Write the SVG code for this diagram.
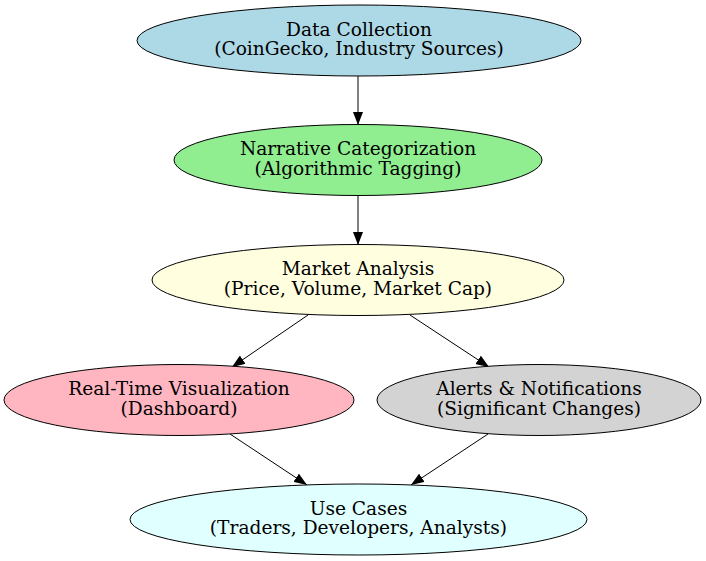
<svg xmlns="http://www.w3.org/2000/svg" width="706" height="561" viewBox="0 0 706 561">
<style>
.n ellipse{stroke:#000;stroke-width:1}
.n text{font-family:"DejaVu Serif","Liberation Serif",serif;font-size:18.6px;text-anchor:middle;fill:#000}
.e line{stroke:#000;stroke-width:1}
</style>
<defs>
<marker id="ah" viewBox="0 0 13 10" refX="13" refY="5" markerWidth="13" markerHeight="10" markerUnits="userSpaceOnUse" orient="auto">
<path d="M0,0 L13,5 L0,10 z" fill="#000"/>
</marker>
</defs>
<rect width="706" height="561" fill="#fff"/>
<g id="connectors" class="e">
<line x1="358" y1="76" x2="358" y2="125" marker-end="url(#ah)"/>
<line x1="358" y1="196" x2="358" y2="245" marker-end="url(#ah)"/>
<line x1="308" y1="315" x2="232" y2="367" marker-end="url(#ah)"/>
<line x1="410" y1="315" x2="489" y2="367" marker-end="url(#ah)"/>
<line x1="230" y1="434" x2="307" y2="485" marker-end="url(#ah)"/>
<line x1="488" y1="434" x2="411" y2="485" marker-end="url(#ah)"/>
</g>
<g id="data_collection" class="n">
<ellipse cx="359" cy="40.5" rx="222" ry="35.5" fill="#add8e6"/>
<text x="359" y="35.5">Data Collection</text>
<text x="359" y="55">(CoinGecko, Industry Sources)</text>
</g>
<g id="narrative" class="n">
<ellipse cx="358" cy="160" rx="184" ry="35.5" fill="#90ee90"/>
<text x="358" y="155">Narrative Categorization</text>
<text x="358" y="174.5">(Algorithmic Tagging)</text>
</g>
<g id="market" class="n">
<ellipse cx="358" cy="280" rx="206" ry="35.5" fill="#ffffe0"/>
<text x="358" y="275">Market Analysis</text>
<text x="358" y="294.5">(Price, Volume, Market Cap)</text>
</g>
<g id="visualization" class="n">
<ellipse cx="179" cy="400" rx="175" ry="35.5" fill="#ffb6c1"/>
<text x="179" y="395">Real-Time Visualization</text>
<text x="179" y="414.5">(Dashboard)</text>
</g>
<g id="alerts" class="n">
<ellipse cx="539" cy="400" rx="162" ry="35.5" fill="#d3d3d3"/>
<text x="539" y="395">Alerts &amp; Notifications</text>
<text x="539" y="414.5">(Significant Changes)</text>
</g>
<g id="use_cases" class="n">
<ellipse cx="358.5" cy="519.5" rx="228.5" ry="35.5" fill="#e0ffff"/>
<text x="358.5" y="514.5">Use Cases</text>
<text x="358.5" y="534">(Traders, Developers, Analysts)</text>
</g>
</svg>
